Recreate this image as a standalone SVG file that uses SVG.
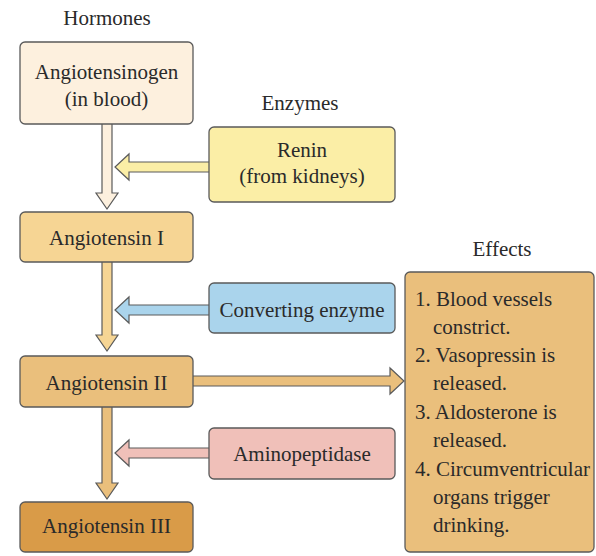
<svg xmlns="http://www.w3.org/2000/svg" width="596" height="556" viewBox="0 0 596 556">
<style>
text{font-family:"Liberation Serif","Times New Roman",serif;font-size:21px;fill:#2a2a2a}
.c{text-anchor:middle}
.lbl{font-size:21px}
.box{stroke:#5a5a5a;stroke-width:1.3}
.arr{stroke:#5a5a5a;stroke-width:1.2;stroke-linejoin:miter}
</style>
<rect width="596" height="556" fill="#ffffff"/>
<text class="c lbl" x="107" y="25">Hormones</text>
<text class="c lbl" x="300" y="110">Enzymes</text>
<text class="c lbl" x="502" y="256">Effects</text>
<g id="connectors">
<path class="arr" fill="#fdf0de" d="M102,123 L102,193 L96,193 L107,209 L118,193 L112,193 L112,123 Z"/>
<path class="arr" fill="#fbeea6" d="M210,162 L129,162 L129,154 L115,167 L129,180 L129,172 L210,172 Z"/>
<path class="arr" fill="#f6d594" d="M102,261 L102,335 L96,335 L107,351 L118,335 L112,335 L112,261 Z"/>
<path class="arr" fill="#aad4ec" d="M210,305 L129,305 L129,297 L115,310 L129,323 L129,315 L210,315 Z"/>
<path class="arr" fill="#eabf7c" d="M192,376 L390,376 L390,368 L404,381 L390,394 L390,386 L192,386 Z"/>
<path class="arr" fill="#eabf7c" d="M102,406 L102,483 L96,483 L107,499 L118,483 L112,483 L112,406 Z"/>
<path class="arr" fill="#f0c0b9" d="M210,448 L129,448 L129,440 L115,453 L129,466 L129,458 L210,458 Z"/>
</g>
<g id="angiotensinogen">
<rect class="box" x="20" y="42" width="173" height="82" rx="5" fill="#fdf0de"/>
<text class="c" x="106.5" y="79">Angiotensinogen</text>
<text class="c" x="106.5" y="106">(in blood)</text>
</g>
<g id="renin">
<rect class="box" x="209" y="127" width="186" height="75" rx="5" fill="#fbeea6"/>
<text class="c" x="302" y="157">Renin</text>
<text class="c" x="302" y="183">(from kidneys)</text>
</g>
<g id="angiotensin1">
<rect class="box" x="20" y="212" width="173" height="50" rx="5" fill="#f6d594"/>
<text class="c" x="106.5" y="245">Angiotensin I</text>
</g>
<g id="converting">
<rect class="box" x="209" y="283" width="186" height="50" rx="5" fill="#aad4ec"/>
<text class="c" x="302" y="317">Converting enzyme</text>
</g>
<g id="angiotensin2">
<rect class="box" x="20" y="356" width="173" height="51" rx="5" fill="#eabf7c"/>
<text class="c" x="106.5" y="390">Angiotensin II</text>
</g>
<g id="aminopeptidase">
<rect class="box" x="209" y="428" width="186" height="51" rx="5" fill="#f0c0b9"/>
<text class="c" x="302" y="461">Aminopeptidase</text>
</g>
<g id="angiotensin3">
<rect class="box" x="20" y="502" width="173" height="50" rx="5" fill="#d99b48"/>
<text class="c" x="106.5" y="533">Angiotensin III</text>
</g>
<g id="effects">
<rect class="box" x="405" y="272" width="189" height="280" rx="5" fill="#eabf7c"/>
<text x="415" y="306">1. Blood vessels</text>
<text x="433" y="334">constrict.</text>
<text x="415" y="362">2. Vasopressin is</text>
<text x="433" y="390">released.</text>
<text x="415" y="419">3. Aldosterone is</text>
<text x="433" y="447">released.</text>
<text x="415" y="476">4. Circumventricular</text>
<text x="433" y="504">organs trigger</text>
<text x="433" y="532">drinking.</text>
</g>
</svg>
